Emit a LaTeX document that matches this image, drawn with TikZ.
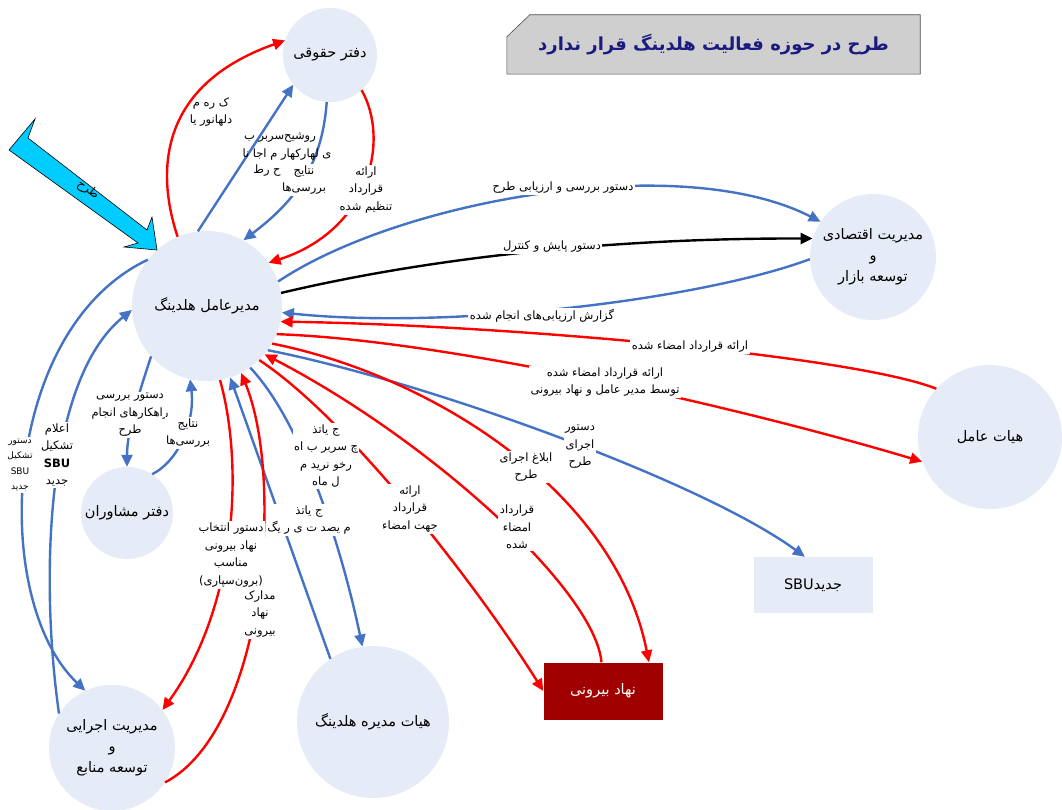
\documentclass[tikz,border=0pt]{standalone}
\usepackage{fontspec}
\usetikzlibrary{arrows.meta}
\TeXXeTstate=1
\newfontfamily\arabicfont[Script=Arabic]{DejaVu Sans}
\newcommand\fatxt[1]{\beginR #1\endR}
\definecolor{circfill}{RGB}{230,236,247}
\definecolor{linkblue}{RGB}{68,114,196}
\definecolor{linkred}{RGB}{255,0,0}
\definecolor{boxred}{RGB}{160,0,0}
\definecolor{titlenavy}{RGB}{26,26,128}
\definecolor{titlegray}{RGB}{207,207,207}
\definecolor{plancyan}{RGB}{0,204,255}
\begin{document}
\begin{tikzpicture}[x=1pt,y=-1pt,
  unit/.style={circle,fill=circfill,inner sep=0pt,align=center,
    font=\arabicfont\fontsize{14.5}{21}\selectfont},
  boxunit/.style={rectangle,inner sep=0pt,align=center,
    font=\arabicfont\fontsize{14.5}{21}\selectfont},
  link/.style={line width=2.4pt,-{Triangle[length=12pt,width=11pt]}},
  bluelink/.style={link,linkblue},
  redlink/.style={link,linkred},
  blacklink/.style={link,black},
  lbl/.style={font=\arabicfont\fontsize{11.5}{17.5}\selectfont,align=center,
    fill=white,inner sep=1.5pt},
  smalllbl/.style={lbl,font=\arabicfont\fontsize{9}{15.5}\selectfont}
]
\useasboundingbox (0,0) rectangle (1062,810);
\fill[white] (0,0) rectangle (1062,810);

% units of the holding
\node[unit,minimum size=94pt] (legal) at (330,55) {\fatxt{دفتر حقوقی}};
\node[unit,minimum size=150pt] (ceo) at (207,306) {\fatxt{مدیرعامل هلدینگ}};
\node[unit,minimum size=126pt] (econ) at (873,257)
  {\fatxt{مدیریت اقتصادی}\\\fatxt{و}\\\fatxt{توسعه  بازار}};
\node[unit,minimum size=144pt] (board) at (990,437) {\fatxt{هیات عامل}};
\node[unit,minimum size=92pt] (advisors) at (127,513) {\fatxt{دفتر مشاوران}};
\node[unit,minimum size=152pt] (directors) at (373,722) {\fatxt{هیات مدیره هلدینگ}};
\node[unit,minimum size=126pt] (exec) at (112,748)
  {\fatxt{مدیریت اجرایی}\\\fatxt{و}\\\fatxt{توسعه منابع}};
\node[boxunit,fill=circfill,minimum width=119pt,minimum height=56pt] (sbu) at (813,585)
  {\beginR جدید\beginL SBU\endL\endR};
\node[boxunit,fill=boxred,text=white,minimum width=119pt,minimum height=57pt] (ext) at (603,691)
  {\fatxt{نهاد بیرونی}};

% title banner with a cut corner
\node[inner sep=0pt,minimum width=413pt,minimum height=59pt] (title) at (713.5,44.5) {};
\filldraw[fill=titlegray,draw=black!70,line width=0.6pt]
  (title.south west) -- ([yshift=-22pt]title.north west) -- ([xshift=23pt]title.north west)
  -- (title.north east) -- (title.south east) -- cycle;
\node[font=\arabicfont\bfseries\fontsize{18}{22}\selectfont,text=titlenavy] at (title.center)
  {\fatxt{طرح در حوزه فعالیت هلدینگ قرار ندارد}};

% incoming plan arrow
\filldraw[fill=plancyan,draw=black,line width=0.6pt]
  (9,150) -- (35,119) -- (28,138) -- (147,230) -- (152,217) -- (157,250)
  -- (124,247) -- (138,243) -- cycle;
\node[font=\arabicfont\fontsize{12}{14}\selectfont,rotate=-37,inner sep=0pt] (plan) at (88,190) {طرح};

% links with the legal office
\draw[redlink] (ceo.113) .. controls (162,190) and (145,90) .. (legal.162);
\draw[bluelink] (ceo.97) -- (legal.219);
\draw[bluelink] (legal.266) .. controls (322,170) and (290,205) .. (ceo.61);
\draw[redlink] (legal.312) .. controls (390,140) and (370,230) .. (ceo.35);

% links with economic management
\draw[bluelink] (ceo.19) .. controls (400,200) and (680,150) .. (econ.146);
\draw[blacklink] (ceo.10) .. controls (420,260) and (600,238) .. (econ.163);
\draw[bluelink] (econ.182) .. controls (700,300) and (450,330) .. (ceo.-5);

% links with the executive board
\draw[redlink] (board.138) .. controls (850,355) and (500,325) .. (ceo.-12);
\draw[redlink] (ceo.-22) .. controls (450,340) and (750,410) .. (board.200);

% links to the new SBU and the external body
\draw[bluelink] (ceo.-36) .. controls (420,380) and (700,480) .. (sbu.106);
\draw[redlink] (ceo.-30) .. controls (430,375) and (615,490) .. (ext.32);
\draw[redlink] (ext.93) .. controls (595,590) and (430,440) .. (ceo.-40);
\draw[redlink] (ceo.-46) .. controls (350,420) and (480,590) .. (ext.180);

% links with the board of directors
\draw[bluelink] (ceo.-55) .. controls (300,420) and (340,540) .. (directors.98);
\draw[bluelink] (directors.124) -- (ceo.-72);

% links with executive management
\draw[redlink] (ceo.-80) .. controls (245,470) and (235,610) .. (exec.37);
\draw[redlink] (exec.-33) .. controls (265,730) and (285,480) .. (ceo.-63);
\draw[bluelink] (exec.147) .. controls (40,580) and (45,380) .. (ceo.183);
\draw[bluelink] (ceo.142) .. controls (0,330) and (-10,600) .. (exec.115);

% links with the advisors
\draw[bluelink] (ceo.222) .. controls (140,390) and (127,430) .. (advisors.90);
\draw[bluelink] (advisors.57) .. controls (180,460) and (195,420) .. (ceo.257);

% link labels
\node[lbl,fill=none] at (211,112) {\fatxt{ک  ره  م}\\\fatxt{دلهانور یا}};
\node[lbl,fill=none] at (280,138) {\fatxt{روشیح‌سربر ب}};
\node[lbl,fill=none] at (287,155) {\fatxt{ی لهارکهار   م اجا نا}};
\node[lbl,fill=none] at (267,171) {\fatxt{ح رط}};
\node[lbl] at (304,180) {\fatxt{نتایج}\\\fatxt{بررسی‌ها}};
\node[lbl] at (366,190) {\fatxt{ارائه}\\\fatxt{قرارداد}\\\fatxt{تنظیم شده}};
\node[lbl] at (563,188) {\fatxt{دستور بررسی و ارزیابی طرح}};
\node[lbl] at (552,247) {\fatxt{دستور پایش و کنترل}};
\node[lbl] at (542,316) {\fatxt{گزارش ارزیابی‌های انجام شده}};
\node[lbl] at (690,347) {\fatxt{ارائه قرارداد امضاء شده}};
\node[lbl] at (605,382) {\fatxt{ارائه قرارداد امضاء شده}\\\fatxt{توسط مدیر عامل و نهاد بیرونی}};
\node[lbl] at (580,447) {\fatxt{دستور}\\\fatxt{اجرای}\\\fatxt{طرح}};
\node[lbl] at (526,467) {\fatxt{ابلاغ اجرای}\\\fatxt{طرح}};
\node[lbl] at (517,527) {\fatxt{قرارداد}\\\fatxt{امضاء}\\\fatxt{شده}};
\node[lbl] at (410,509) {\fatxt{ارائه}\\\fatxt{قرارداد}\\\fatxt{جهت امضاء}};
\node[lbl] at (326,456) {\fatxt{ج یاتذ}\\\fatxt{چ سربر ب    اه}\\\fatxt{رخو نرید م}\\\fatxt{ل ماه}};
\node[lbl] at (309,520) {\fatxt{ج یاتذ}\\\fatxt{م یصد ت ی ر یگ}};
\node[lbl] at (231,555) {\fatxt{دستور انتخاب}\\\fatxt{نهاد بیرونی}\\\fatxt{مناسب}\\\fatxt{(برون‌سپاری)}};
\node[lbl] at (260,614) {\fatxt{مدارک}\\\fatxt{نهاد}\\\fatxt{بیرونی}};
\node[lbl] at (130,415) {\fatxt{دستور بررسی}\\\fatxt{راهکارهای انجام}\\\fatxt{طرح}};
\node[lbl] at (188,433) {\fatxt{نتایج}\\\fatxt{بررسی‌ها}};
\node[lbl] at (57,455) {\fatxt{اعلام}\\\fatxt{تشکیل}\\\textbf{SBU}\\\fatxt{جدید}};
\node[smalllbl] at (20,465) {\fatxt{دستور}\\\fatxt{تشکیل}\\SBU\\\fatxt{جدید}};
\end{tikzpicture}
\end{document}
